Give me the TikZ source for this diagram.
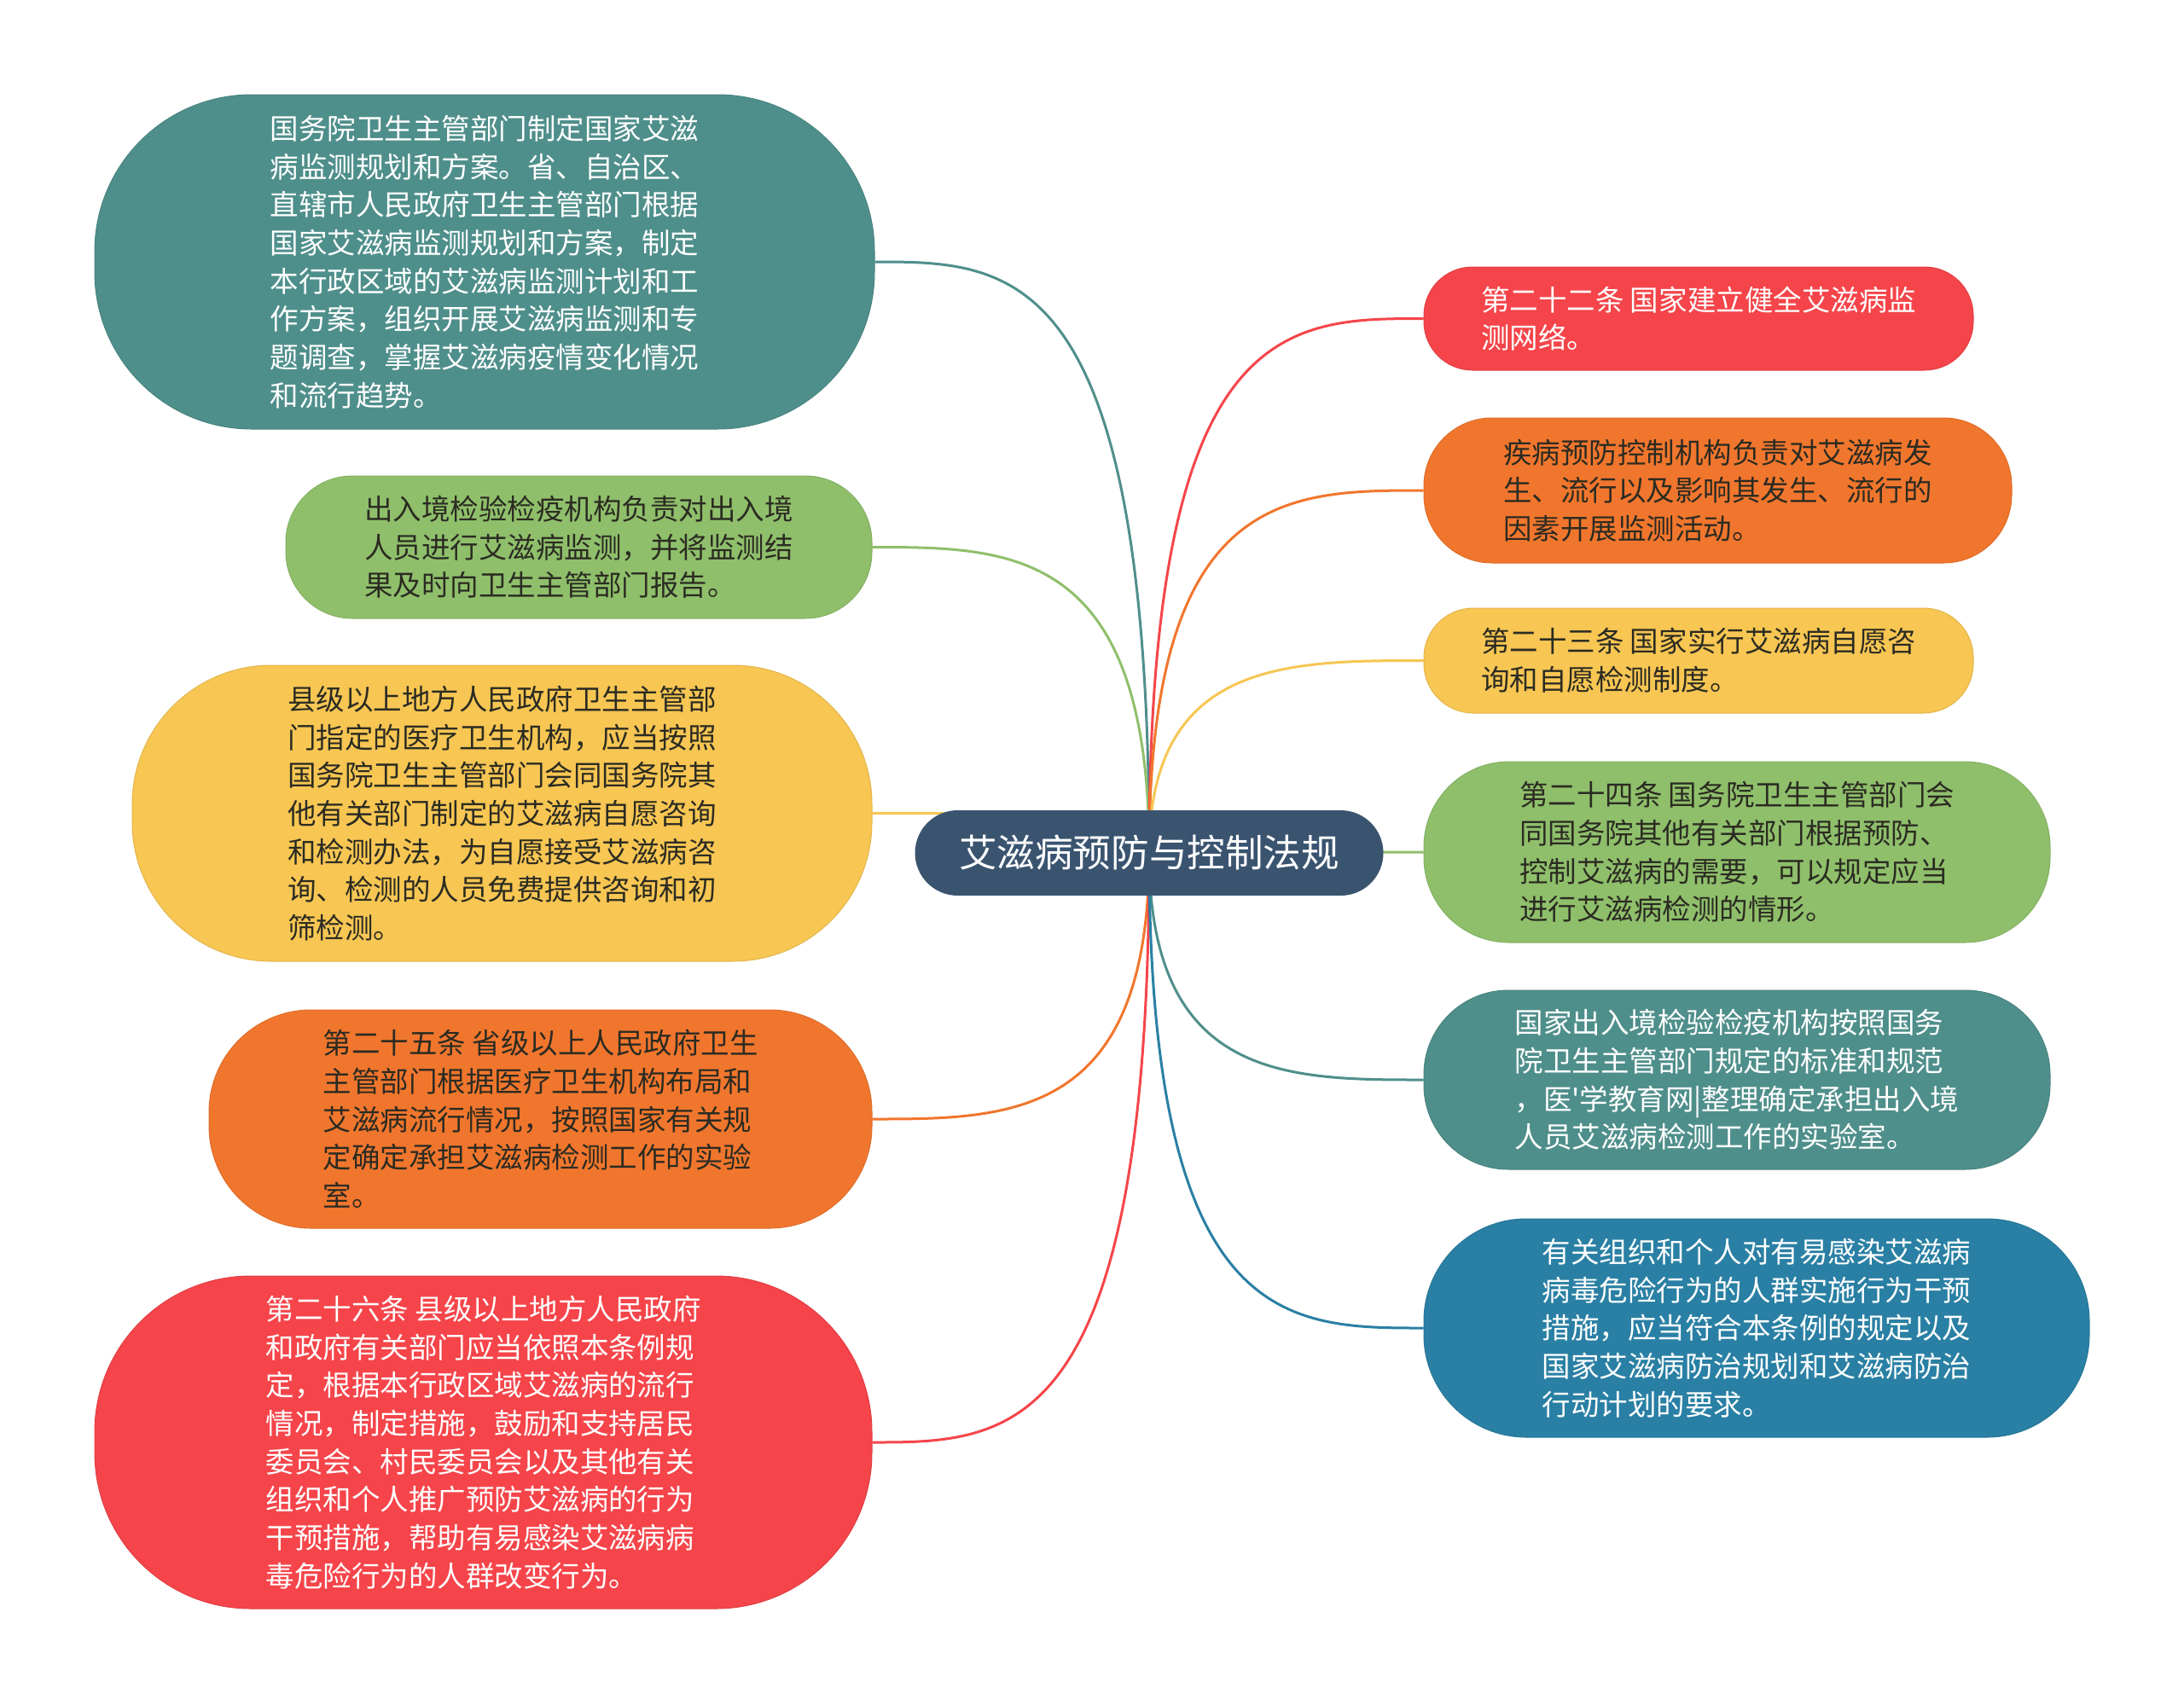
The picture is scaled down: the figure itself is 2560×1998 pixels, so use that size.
\documentclass[tikz,border=0pt]{standalone}
\usepackage{fontspec}
\setmainfont{Noto Sans CJK SC}[Ligatures=TeXOff]
\usetikzlibrary{calc,backgrounds}
\definecolor{cteal}{HTML}{4F8F8B}
\definecolor{cgreen}{HTML}{8FBF6B}
\definecolor{cyellow}{HTML}{F7C653}
\definecolor{corange}{HTML}{F1762D}
\definecolor{cred}{HTML}{F5454A}
\definecolor{cblue}{HTML}{2A80A4}
\definecolor{ccenter}{HTML}{3A5470}
\definecolor{cdark}{HTML}{2B2B22}
\tikzset{
  topic/.style={rectangle, inner sep=0pt, align=left,
    font=\fontsize{33.5}{44.7}\selectfont},
  lighttopic/.style={topic, fill=#1, draw=#1!92!black, line width=1pt, text=white},
  darktopic/.style={topic, fill=#1, draw=#1!92!black, line width=1pt, text=cdark},
  conn/.style={line width=3pt, draw=#1},
}
\begin{document}
\begin{tikzpicture}[x=1pt,y=-1pt]
\useasboundingbox (0,0) rectangle (2560,1998);

\node[rectangle, fill=ccenter, text=white, minimum width=549, minimum height=100,
  rounded corners=50, inner sep=0pt, font=\fontsize{44.6}{50}\selectfont] (C) at (1347,1000) {艾滋病预防与控制法规};

% left
\node[lighttopic=cteal, minimum width=914, minimum height=392, rounded corners=184] (L1) at (568,307)
{国务院卫生主管部门制定国家艾滋\\病监测规划和方案。省、自治区、\\直辖市人民政府卫生主管部门根据\\国家艾滋病监测规划和方案，制定\\本行政区域的艾滋病监测计划和工\\作方案，组织开展艾滋病监测和专\\题调查，掌握艾滋病疫情变化情况\\和流行趋势。};

\node[darktopic=cgreen, minimum width=687, minimum height=167, rounded corners=78] (L2) at (678.5,641.5)
{出入境检验检疫机构负责对出入境\\人员进行艾滋病监测，并将监测结\\果及时向卫生主管部门报告。};

\node[darktopic=cyellow, minimum width=867, minimum height=347, rounded corners=163] (L3) at (588.5,953.5)
{县级以上地方人民政府卫生主管部\\门指定的医疗卫生机构，应当按照\\国务院卫生主管部门会同国务院其\\他有关部门制定的艾滋病自愿咨询\\和检测办法，为自愿接受艾滋病咨\\询、检测的人员免费提供咨询和初\\筛检测。};

\node[darktopic=corange, minimum width=777, minimum height=256, rounded corners=120] (L4) at (633.5,1312)
{第二十五条 省级以上人民政府卫生\\主管部门根据医疗卫生机构布局和\\艾滋病流行情况，按照国家有关规\\定确定承担艾滋病检测工作的实验\\室。};

\node[lighttopic=cred, minimum width=911, minimum height=390, rounded corners=183] (L5) at (566.5,1691)
{第二十六条 县级以上地方人民政府\\和政府有关部门应当依照本条例规\\定，根据本行政区域艾滋病的流行\\情况，制定措施，鼓励和支持居民\\委员会、村民委员会以及其他有关\\组织和个人推广预防艾滋病的行为\\干预措施，帮助有易感染艾滋病病\\毒危险行为的人群改变行为。};

% right
\node[lighttopic=cred, minimum width=644, minimum height=121, rounded corners=57] (R1) at (1991,373.5)
{第二十二条 国家建立健全艾滋病监\\测网络。};

\node[darktopic=corange, minimum width=689, minimum height=170, rounded corners=80] (R2) at (2013.5,575)
{疾病预防控制机构负责对艾滋病发\\生、流行以及影响其发生、流行的\\因素开展监测活动。};

\node[darktopic=cyellow, minimum width=644, minimum height=123, rounded corners=58] (R3) at (1991,774.5)
{第二十三条 国家实行艾滋病自愿咨\\询和自愿检测制度。};

\node[darktopic=cgreen, minimum width=734, minimum height=212, rounded corners=100] (R4) at (2036,999)
{第二十四条 国务院卫生主管部门会\\同国务院其他有关部门根据预防、\\控制艾滋病的需要，可以规定应当\\进行艾滋病检测的情形。};

\node[lighttopic=cteal, minimum width=734, minimum height=210, rounded corners=99] (R5) at (2036,1266)
{国家出入境检验检疫机构按照国务\\院卫生主管部门规定的标准和规范\\，医'学教育网|整理确定承担出入境\\人员艾滋病检测工作的实验室。};

\node[lighttopic=cblue, minimum width=780, minimum height=256, rounded corners=120] (R6) at (2059,1557)
{有关组织和个人对有易感染艾滋病\\病毒危险行为的人群实施行为干预\\措施，应当符合本条例的规定以及\\国家艾滋病防治规划和艾滋病防治\\行动计划的要求。};

\begin{pgfonlayer}{background}
\fill[white] (0,0) rectangle (2560,1998);
\foreach \n/\c in {L1/cteal,L2/cgreen,L3/cyellow,L4/corange,L5/cred}{
  \draw[conn=\c] (C.center) .. controls (C.center |- \n.east) and ($(C.center |- \n.east)!0.5!(\n.east)$) .. (\n.east);
}
\foreach \n/\c in {R1/cred,R2/corange,R3/cyellow,R4/cgreen,R5/cteal,R6/cblue}{
  \draw[conn=\c] (C.center) .. controls (C.center |- \n.west) and ($(C.center |- \n.west)!0.5!(\n.west)$) .. (\n.west);
}
\end{pgfonlayer}
\end{tikzpicture}
\end{document}
